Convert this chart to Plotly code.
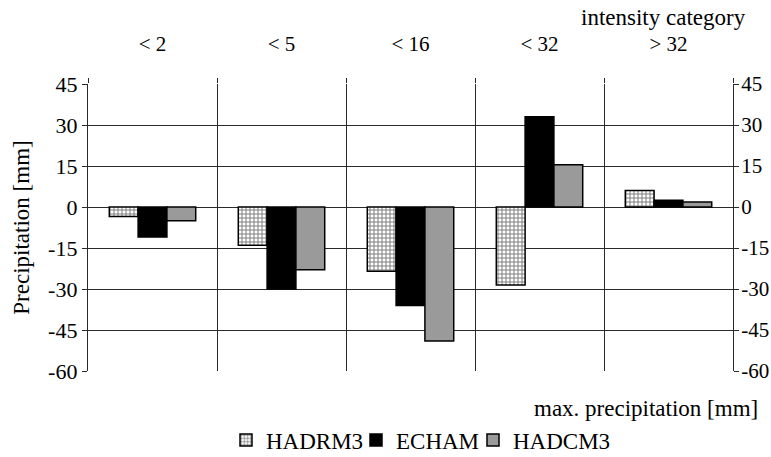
import plotly.graph_objects as go

categories = ["< 2", "< 5", "< 16", "< 32", "> 32"]
hadrm3 = [-3.5, -14, -23.5, -28.5, 6]
echam = [-11, -30, -36, 33, 2.5]
hadcm3 = [-5, -23, -49, 15.5, 1.8]
yticks = [45, 30, 15, 0, -15, -30, -45, -60]

xpos = list(range(len(categories)))
FONT = "Liberation Serif"
FS = 22
LINE = "#2a2a2a"
W, H = 771, 457

fig = go.Figure()
fig.add_trace(go.Bar(
    x=xpos, y=hadrm3, name="HADRM3", legend="legend",
    marker=dict(color="white", line=dict(color="black", width=1.5),
                pattern=dict(shape="+", fgcolor="black", bgcolor="white",
                             size=4, solidity=0.45, fillmode="overlay")),
))
fig.add_trace(go.Bar(
    x=xpos, y=echam, name="ECHAM", legend="legend2",
    marker=dict(color="black", line=dict(color="black", width=1.5)),
))
fig.add_trace(go.Bar(
    x=xpos, y=hadcm3, name="HADCM3", legend="legend3",
    marker=dict(color="#9a9a9a", line=dict(color="black", width=1.5)),
))
# invisible trace to anchor the right-hand axis
fig.add_trace(go.Scatter(x=[xpos[0]], y=[0], yaxis="y2", mode="markers",
                         marker=dict(opacity=0), showlegend=False, hoverinfo="skip"))


def leg(xpix):
    return dict(orientation="h", x=xpix / W, xref="container", xanchor="left",
                y=0.037, yref="container", yanchor="middle",
                font=dict(family=FONT, size=FS + 1), itemwidth=30,
                bgcolor="rgba(0,0,0,0)")


fig.update_layout(
    width=W, height=H,
    margin=dict(l=88, r=38, t=84, b=86, autoexpand=False),
    paper_bgcolor="white", plot_bgcolor="white",
    font=dict(family=FONT, size=FS, color="black"),
    barmode="group", bargap=0.33, bargroupgap=0,
    showlegend=True,
    legend=leg(226),
    legend2=leg(356),
    legend3=leg(473),
    xaxis=dict(
        side="top", range=[-0.5, 4.5], tickvals=xpos, ticktext=categories,
        showgrid=False, zeroline=False, showline=False, ticks="",
        ticklabelstandoff=28, automargin=False,
        tickfont=dict(family=FONT, size=FS - 1),
        minor=dict(tickvals=[-0.5, 0.5, 1.5, 2.5, 3.5, 4.5], showgrid=True,
                   gridcolor=LINE, gridwidth=1.3, ticks="outside", ticklen=5,
                   tickcolor=LINE),
    ),
    yaxis=dict(
        range=[-60, 45], tickvals=yticks, ticktext=[str(v) for v in yticks],
        showgrid=True, gridcolor=LINE, gridwidth=1.3,
        zeroline=True, zerolinecolor=LINE, zerolinewidth=1.3,
        showline=True, linecolor=LINE, linewidth=1.3,
        ticks="outside", ticklen=5, tickcolor=LINE, automargin=False,
        title=dict(text="Precipitation [mm]", font=dict(family=FONT, size=FS + 1), standoff=12),
    ),
    yaxis2=dict(
        overlaying="y", side="right", range=[-60, 45], tickvals=yticks,
        ticktext=[str(v) for v in yticks], showgrid=False, zeroline=False,
        showline=True, linecolor=LINE, linewidth=1.3, automargin=False,
        ticks="outside", ticklen=5, tickcolor=LINE, ticklabelstandoff=-2,
        tickfont=dict(family=FONT, size=FS - 1),
    ),
    annotations=[
        dict(text="intensity category", xref="paper", yref="paper", x=1.024, y=1.0,
             yshift=67, xanchor="right", yanchor="middle", showarrow=False,
             font=dict(family=FONT, size=FS + 1)),
        dict(text="max. precipitation [mm]", xref="paper", yref="paper", x=1.042, y=0,
             yshift=-37, xanchor="right", yanchor="middle", showarrow=False,
             font=dict(family=FONT, size=FS + 1)),
    ],
)

fig.write_html("out.html", config={"displayModeBar": False},
               post_script="document.body.style.margin='0px';")
